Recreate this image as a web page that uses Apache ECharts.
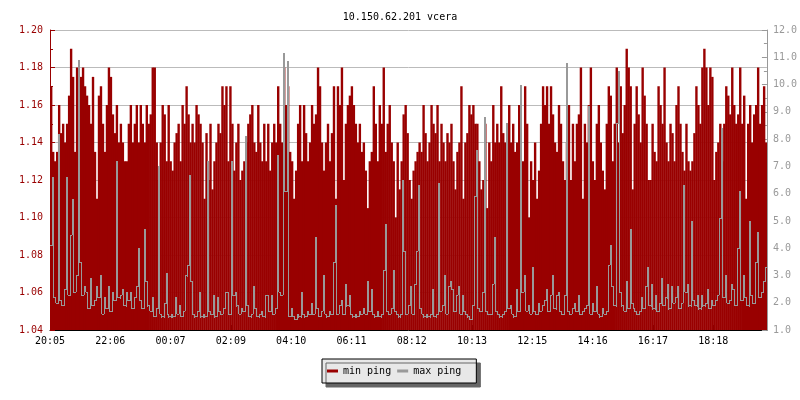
<!DOCTYPE html>
<html><head><meta charset="utf-8">
<script src="https://cdn.jsdelivr.net/npm/echarts@6/dist/echarts.min.js"></script>
<style>html,body{margin:0;padding:0;background:#fff}#c{width:800px;height:400px}</style>
</head><body><div id="c"></div>
<script>
const chartTitle = '10.150.62.201 vcera';
const seriesNames = ['min ping', 'max ping'];
const tickLabels = ['20:05','22:06','00:07','02:09','04:10','06:11','08:12','10:13','12:15','14:16','16:17','18:18'];
const minutesPerTick = 121.1;
const minutesPerSample = 4;
const totalMinutes = 1440;

const minPing = [
1.17,1.135,1.13,1.135,1.16,1.145,1.15,1.14,1.15,1.165,
1.19,1.175,1.135,1.18,1.155,1.175,1.18,1.17,1.165,1.16,
1.15,1.175,1.135,1.11,1.165,1.17,1.15,1.135,1.16,1.18,
1.175,1.155,1.145,1.16,1.14,1.15,1.14,1.13,1.13,1.15,
1.16,1.14,1.15,1.16,1.14,1.16,1.15,1.14,1.16,1.15,
1.155,1.18,1.18,1.14,1.12,1.14,1.16,1.155,1.13,1.16,

1.13,1.125,1.14,1.145,1.15,1.13,1.16,1.15,1.17,1.155,
1.14,1.15,1.14,1.16,1.155,1.15,1.14,1.11,1.145,1.12,
1.15,1.115,1.13,1.14,1.15,1.145,1.17,1.16,1.17,1.13,
1.17,1.15,1.125,1.14,1.15,1.12,1.125,1.13,1.14,1.15,
1.155,1.16,1.14,1.135,1.16,1.14,1.13,1.15,1.13,1.15,
1.125,1.14,1.15,1.14,1.17,1.15,1.14,1.18,1.16,1.17,

1.135,1.13,1.11,1.125,1.15,1.16,1.13,1.16,1.145,1.13,
1.14,1.16,1.15,1.155,1.18,1.17,1.14,1.125,1.14,1.15,
1.13,1.145,1.17,1.11,1.17,1.16,1.18,1.12,1.15,1.16,
1.165,1.17,1.16,1.15,1.14,1.15,1.135,1.14,1.125,1.105,
1.13,1.135,1.17,1.15,1.13,1.16,1.15,1.18,1.135,1.15,
1.16,1.14,1.13,1.10,1.14,1.115,1.13,1.155,1.16,1.145,

1.12,1.11,1.125,1.13,1.135,1.14,1.135,1.16,1.145,1.13,
1.14,1.16,1.15,1.145,1.16,1.13,1.15,1.14,1.13,1.145,
1.14,1.15,1.13,1.115,1.135,1.14,1.17,1.11,1.14,1.145,
1.16,1.155,1.16,1.15,1.15,1.13,1.115,1.12,1.15,1.105,
1.14,1.13,1.16,1.14,1.15,1.14,1.17,1.145,1.14,1.15,
1.16,1.14,1.15,1.135,1.14,1.16,1.10,1.13,1.17,1.15,

1.10,1.13,1.12,1.14,1.11,1.125,1.15,1.17,1.16,1.17,
1.15,1.17,1.155,1.14,1.135,1.16,1.15,1.13,1.12,1.14,
1.16,1.12,1.15,1.13,1.15,1.155,1.18,1.11,1.15,1.14,
1.16,1.18,1.13,1.12,1.15,1.16,1.14,1.125,1.115,1.15,
1.17,1.165,1.13,1.15,1.18,1.14,1.17,1.145,1.16,1.19,
1.18,1.17,1.115,1.15,1.17,1.155,1.14,1.18,1.165,1.15,

1.12,1.12,1.15,1.135,1.13,1.17,1.16,1.15,1.18,1.14,
1.13,1.15,1.145,1.13,1.16,1.17,1.15,1.135,1.125,1.15,
1.13,1.125,1.13,1.145,1.17,1.16,1.15,1.18,1.19,1.18,
1.16,1.18,1.175,1.12,1.135,1.14,1.15,1.13,1.15,1.17,
1.165,1.155,1.18,1.16,1.15,1.155,1.18,1.15,1.165,1.11,
1.15,1.16,1.14,1.155,1.16,1.18,1.15,1.16,1.17,1.14
];

const maxPing = [
4.1,6.6,2.2,2.0,8.2,2.1,1.9,2.5,6.6,2.3,
4.5,5.8,2.4,3.0,10.9,3.5,2.3,2.6,2.4,1.8,
2.9,1.9,2.1,2.6,2.2,3.0,1.6,2.2,1.8,2.6,
1.7,2.4,2.1,7.2,2.2,2.3,2.5,1.9,2.4,2.1,
2.4,1.8,2.2,2.6,4.0,2.1,1.8,4.7,2.8,1.9,
1.7,2.2,1.5,1.8,7.0,1.6,1.5,2.0,3.1,1.6,

1.5,1.6,1.5,2.2,1.6,1.9,1.5,1.7,3.0,3.4,
6.7,2.8,1.6,1.5,1.7,2.4,1.5,1.6,1.5,7.2,
1.7,1.6,2.3,1.5,2.2,1.7,1.6,1.8,2.4,2.4,
1.6,7.2,2.3,2.4,1.9,1.6,1.8,1.7,8.1,1.9,
1.5,1.6,2.6,1.8,1.5,1.6,1.7,1.5,2.3,2.3,
1.7,2.3,1.6,1.8,7.4,2.4,2.3,11.15,6.1,10.85,

1.5,1.8,1.5,1.4,1.6,1.5,2.4,1.6,1.5,1.7,
1.6,2.0,1.6,4.4,1.8,1.5,1.7,3.0,1.6,1.5,
1.7,1.6,3.5,5.6,1.6,1.9,2.1,1.6,2.7,1.9,
2.3,1.6,1.5,1.6,1.5,1.7,1.6,1.8,1.6,2.8,
1.7,2.5,1.6,1.5,1.7,1.5,1.6,3.2,4.9,1.7,
1.6,1.8,3.2,1.7,1.6,1.5,1.6,6.5,3.9,1.6,

1.9,2.6,1.6,2.7,3.9,6.3,1.8,1.6,1.5,1.6,
1.5,1.6,2.5,1.5,1.6,6.4,1.7,1.9,3.0,1.6,
2.6,2.8,2.5,1.7,2.3,2.6,1.6,2.3,1.7,1.6,
1.5,1.4,1.9,5.9,7.6,1.8,1.7,2.4,8.8,1.7,
1.6,1.6,2.7,4.4,1.7,1.6,1.5,1.6,1.7,8.6,
1.8,1.9,1.6,1.5,2.5,1.7,10.0,2.4,3.0,1.7,

1.9,1.6,3.3,1.7,1.6,2.0,1.7,1.9,2.1,2.5,
1.7,2.3,3.0,1.8,2.3,2.4,1.7,1.6,2.3,10.8,
1.7,1.6,1.8,2.0,1.7,2.3,1.6,1.7,1.8,1.9,
9.2,1.6,2.0,1.7,2.6,1.6,1.5,1.8,1.6,1.7,
3.4,4.1,2.6,1.9,8.6,10.5,2.4,1.9,1.7,2.8,
1.8,4.7,2.0,1.8,1.7,1.6,1.7,2.2,1.8,2.6,

3.3,1.9,2.7,1.8,2.3,1.7,2.0,2.9,1.9,2.2,
2.7,1.8,2.6,2.0,2.2,2.6,1.8,2.0,6.3,2.4,
2.7,1.9,5.0,2.1,1.9,2.3,1.8,2.3,1.9,2.0,
2.5,1.8,2.1,1.9,2.1,2.3,5.1,8.4,2.2,3.0,
2.0,2.1,2.7,2.5,1.9,4.0,6.1,2.1,3.0,2.2,
1.9,5.0,2.3,2.0,3.5,4.6,2.2,2.4,2.8,3.3
];

const FONT = '"DejaVu Sans Mono", "Liberation Mono", monospace';
const RED = '#990000';
const GRAY = '#999999';
const LEFT_MIN = 1.04, LEFT_MAX = 1.20, LEFT_STEP = 0.02;
const RIGHT_MIN = 1, RIGHT_MAX = 12, RIGHT_STEP = 1;

// rrd-style samples: each value holds for one sample period [start, end)
const minData = minPing.map((v, i) => [i * minutesPerSample, (i + 1) * minutesPerSample, v]);
const maxData = maxPing.map((v, i) => [
  i * minutesPerSample, (i + 1) * minutesPerSample, v,
  i > 0 ? maxPing[i - 1] : v,
  i < maxPing.length - 1 ? maxPing[i + 1] : v
]);

function renderMin(params, api) {
  const a = api.coord([api.value(0), api.value(2)]);
  const b = api.coord([api.value(1), LEFT_MIN]);
  return {
    type: 'rect',
    shape: {x: a[0], y: a[1], width: b[0] - a[0] + 0.4, height: b[1] - a[1]},
    style: {fill: RED, stroke: null}
  };
}
// 1px step line: rises are drawn in a sample's first column, falls in its last column
function renderMax(params, api) {
  const v = api.value(2), prev = api.value(3), next = api.value(4);
  const pv = api.coord([api.value(0), v]);
  const yp = api.coord([api.value(0), prev])[1];
  const yn = api.coord([api.value(0), next])[1];
  const c = Math.round(pv[0]);
  const col = (x, ya, yb) => ({
    type: 'rect',
    shape: {x: x, y: Math.round(Math.min(ya, yb)), width: 1, height: Math.max(1, Math.round(Math.abs(ya - yb)) + 1)},
    style: {fill: GRAY, stroke: null}
  });
  return {type: 'group', children: [
    col(c, v >= prev ? yp : pv[1], pv[1]),
    col(c + 1, pv[1], next < v ? yn : pv[1])
  ]};
}

const chart = echarts.init(document.getElementById('c'), null, {renderer: 'canvas'});
chart.setOption({
  animation: false,
  backgroundColor: '#ffffff',
  title: {
    text: chartTitle, left: 'center', top: 7,
    textStyle: {fontFamily: FONT, fontSize: 10, fontWeight: 'normal', color: '#000'}
  },
  legend: {
    data: seriesNames, left: 322, top: 359, icon: 'rect',
    itemWidth: 11, itemHeight: 3, itemGap: 6,
    padding: [5, 15, 5, 5],
    backgroundColor: '#e8e8e8', borderColor: '#000', borderWidth: 1, borderRadius: 0,
    shadowColor: '#666', shadowOffsetX: 4, shadowOffsetY: 4, shadowBlur: 0,
    textStyle: {fontFamily: FONT, fontSize: 10, color: '#000', lineHeight: 14}
  },
  grid: {left: 50, right: 30, top: 30, bottom: 70, containLabel: false},
  xAxis: {
    type: 'value', min: 0, max: totalMinutes, interval: minutesPerTick,
    axisLine: {show: true, lineStyle: {color: '#000', width: 1}},
    axisTick: {show: true, inside: true, length: 5, lineStyle: {color: '#000'}},
    axisLabel: {
      color: '#000', fontFamily: FONT, fontSize: 10, margin: 6, showMaxLabel: false,
      formatter: function (val) {
        const idx = Math.round(val / minutesPerTick);
        if (Math.abs(val - idx * minutesPerTick) > 0.5) return '';
        return tickLabels[idx] || '';
      }
    },
    splitLine: {show: false}
  },
  yAxis: [{
    type: 'value', position: 'left', min: LEFT_MIN, max: LEFT_MAX, interval: LEFT_STEP,
    axisLine: {show: true, lineStyle: {color: RED}},
    axisTick: {show: true, inside: true, length: 5, lineStyle: {color: RED}},
    minorTick: {show: true, splitNumber: 2, length: 3, lineStyle: {color: RED}},
    axisLabel: {color: RED, fontFamily: FONT, fontSize: 10, margin: 7,
      formatter: v => v.toFixed(2)},
    splitLine: {show: true, lineStyle: {color: '#bbbbbb', width: 1}}
  }, {
    type: 'value', position: 'right', min: RIGHT_MIN, max: RIGHT_MAX, interval: RIGHT_STEP,
    axisLine: {show: true, lineStyle: {color: GRAY}},
    axisTick: {show: true, inside: true, length: 5, lineStyle: {color: GRAY}},
    minorTick: {show: true, splitNumber: 2, length: 3, lineStyle: {color: GRAY}},
    axisLabel: {color: GRAY, fontFamily: FONT, fontSize: 10, margin: 6,
      formatter: v => v.toFixed(1)},
    splitLine: {show: false}
  }],
  series: [{
    name: seriesNames[0], type: 'custom', data: minData, yAxisIndex: 0,
    renderItem: renderMin, encode: {x: [0, 1], y: 2},
    itemStyle: {color: RED}, clip: true, z: 2
  }, {
    name: seriesNames[1], type: 'custom', data: maxData, yAxisIndex: 1,
    renderItem: renderMax, encode: {x: [0, 1], y: [2, 3, 4]},
    itemStyle: {color: GRAY}, clip: true, z: 3
  }]
});
</script>
</body></html>
